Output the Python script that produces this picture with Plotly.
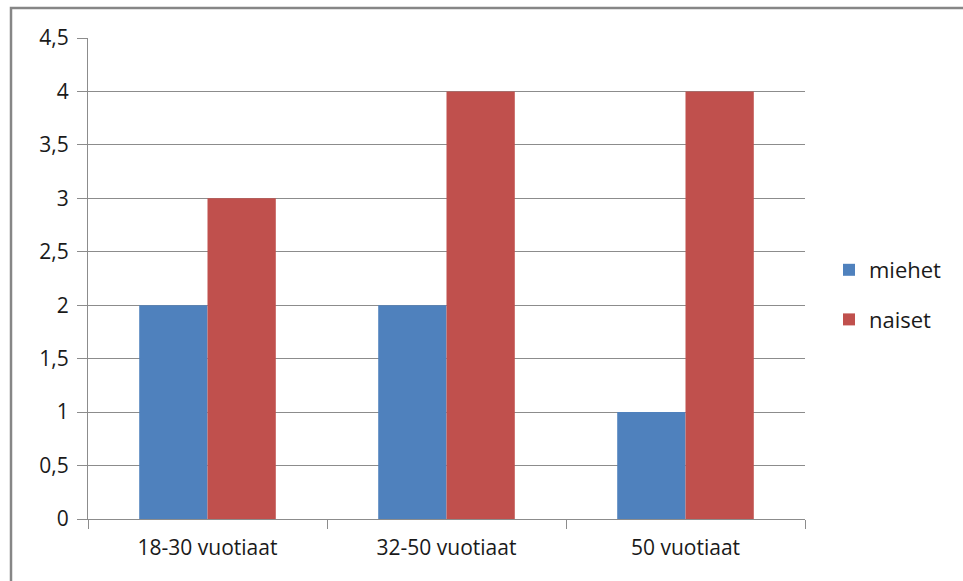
import plotly.graph_objects as go

categories = ["18-30 vuotiaat", "32-50 vuotiaat", "50 vuotiaat"]
miehet = [2, 2, 1]
naiset = [3, 4, 4]
y_ticks = [0, 0.5, 1, 1.5, 2, 2.5, 3, 3.5, 4, 4.5]

BLUE = "#4F81BD"
RED = "#C0504D"
GRID = "#8C8C8C"
FONT = "Open Sans, Liberation Sans, sans-serif"

fig = go.Figure()
fig.add_trace(go.Bar(name="miehet", x=categories, y=miehet, marker_color=BLUE,
                     marker_line_width=0, legendgroup="a"))
fig.add_trace(go.Bar(name="naiset", x=categories, y=naiset, marker_color=RED,
                     marker_line_width=0, legendgroup="b"))

L, R, T, B = 88, 158, 38, 62
W, H = 963, 581
pw, ph = W - L - R, H - T - B

fig.update_layout(
    width=W, height=H,
    margin=dict(l=L, r=R, t=T, b=B, pad=0),
    paper_bgcolor="white", plot_bgcolor="white",
    barmode="group", bargap=1.5 / 3.5, bargroupgap=0,
    separators=", ",
    font=dict(family=FONT, size=21, color="#1a1a1a"),
    legend=dict(x=(829 - L) / pw, y=(519 - 295) / ph, xanchor="left", yanchor="middle",
                font=dict(size=22), tracegroupgap=18, itemwidth=30,
                bgcolor="rgba(0,0,0,0)"),
    showlegend=True,
    xaxis=dict(showline=True, linecolor=GRID, linewidth=1, ticks="outside",
               tickson="boundaries", ticklen=9, tickcolor=GRID, showgrid=False,
               tickfont=dict(size=21), ticklabelstandoff=10, fixedrange=True),
    yaxis=dict(range=[0, 4.5], tickvals=y_ticks, showline=True, linecolor=GRID,
               linewidth=1, ticks="outside", ticklen=10, tickcolor=GRID,
               showgrid=True, gridcolor=GRID, gridwidth=1, zeroline=False,
               tickfont=dict(size=21), ticklabelstandoff=4, fixedrange=True),
    shapes=[dict(type="rect", xref="paper", yref="paper",
                 x0=(11 - L) / pw, x1=(W + 20 - L) / pw,
                 y0=(T + ph - (H + 20)) / ph, y1=(T + ph - 8) / ph,
                 line=dict(color="#868686", width=2.5))],
)

fig.write_html("out.html")
